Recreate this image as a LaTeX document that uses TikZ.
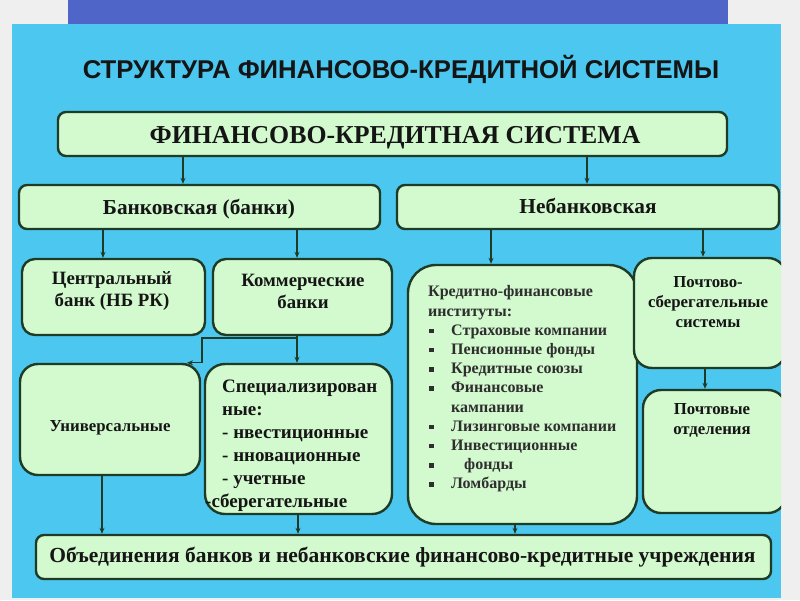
\documentclass[tikz,border=0pt]{standalone}
\usepackage{fontspec}
\setmainfont{Liberation Serif}
\newfontfamily\titlefont{Liberation Sans}
\usetikzlibrary{arrows.meta}
\definecolor{bggray}{HTML}{EFEFEF}
\definecolor{topblue}{HTML}{4F66C8}
\definecolor{cyanbg}{HTML}{4BC7F0}
\definecolor{boxfill}{HTML}{D3F9CE}
\definecolor{boxline}{HTML}{1F3B26}
\definecolor{txt}{HTML}{151515}
\definecolor{txtgray}{HTML}{2E2E2E}
\newcommand{\mybul}{\makebox[23pt][l]{\hspace*{1pt}\raisebox{0.28ex}{\rule{4.5pt}{4.5pt}}}}
\begin{document}
\begin{tikzpicture}[x=1pt,y=-1pt,
  box/.style={draw=boxline, line width=2.4pt, fill=boxfill, inner sep=0pt},
  conn/.style={draw=boxline, line width=1.2pt, -{Stealth[length=6pt,width=5pt]}},
  lbl/.style={inner sep=0pt, text=txt, align=center},
  fA/.style={font=\fontsize{25.8}{30}\selectfont\bfseries},
  fB/.style={font=\fontsize{21.3}{25}\selectfont\bfseries},
  fC/.style={font=\fontsize{18.8}{22}\selectfont\bfseries},
  fD/.style={font=\fontsize{16.8}{20}\selectfont\bfseries},
  fE/.style={font=\fontsize{19}{23}\selectfont\bfseries},
  fF/.style={font=\fontsize{16}{19.2}\selectfont\bfseries},
  fG/.style={font=\fontsize{21.5}{25}\selectfont\bfseries},
]
\useasboundingbox (0,0) rectangle (800,600);
\fill[bggray] (0,0) rectangle (800,600);
\fill[topblue] (68,0) rectangle (728,24);
\fill[cyanbg] (12,24) rectangle (781,598);

\node[lbl, anchor=base, font=\titlefont\fontsize{25.7}{30}\selectfont\bfseries] (title) at (401,78) {СТРУКТУРА ФИНАНСОВО-КРЕДИТНОЙ СИСТЕМЫ};

% boxes
\node[box, rounded corners=8pt, minimum width=669pt, minimum height=44pt] (fks) at (392.5,134) {};
\node[box, rounded corners=8pt, minimum width=361pt, minimum height=44pt] (bank) at (199.5,207) {};
\node[box, rounded corners=8pt, minimum width=382pt, minimum height=44pt] (nonbank) at (588,207) {};
\node[box, rounded corners=13pt, minimum width=183pt, minimum height=76pt] (central) at (113.5,297) {};
\node[box, rounded corners=13pt, minimum width=179pt, minimum height=76pt] (comm) at (302.5,297) {};
\node[box, rounded corners=28pt, minimum width=229pt, minimum height=259pt] (credit) at (522.5,394.5) {};
\begin{scope}
\clip (12,24) rectangle (781,598);
\node[box, rounded corners=18pt, minimum width=152pt, minimum height=110pt] (postsav) at (710,313) {};
\node[box, rounded corners=18pt, minimum width=143pt, minimum height=123pt] (postoff) at (714.5,451.5) {};
\end{scope}
\node[box, rounded corners=18pt, minimum width=180pt, minimum height=111pt] (univ) at (110,419.5) {};
\node[box, rounded corners=20pt, minimum width=187pt, minimum height=150pt] (spec) at (298.5,439) {};
\node[box, rounded corners=8pt, minimum width=735pt, minimum height=44pt] (union) at (403.5,557) {};

% texts
\node[lbl, fA, anchor=base] (tfks) at (395,143) {ФИНАНСОВО-КРЕДИТНАЯ СИСТЕМА};
\node[lbl, fB, anchor=base] (tbank) at (199,214) {Банковская (банки)};
\node[lbl, fB, anchor=base] (tnonbank) at (588,213.5) {Небанковская};
\node[lbl, fC] (tcentral) at (112,291) {Центральный\\банк (НБ РК)};
\node[lbl, fC] (tcomm) at (303,291) {Коммерческие\\банки};
\node[lbl, fD] (tpostsav) at (708,302) {Почтово-\\сберегательные\\системы};
\node[lbl, fD] (tpostoff) at (712,420) {Почтовые\\отделения};
\node[lbl, fD, anchor=base] (tuniv) at (110,431) {Универсальные};
\node[lbl, fE, anchor=west, align=left] (tspec) at (222,445.5) {Специализирован\\ные:\\- нвестиционные\\- нновационные\\- учетные\\\hspace*{-17pt}-сберегательные};
\node[lbl, fF, anchor=west, align=left, text=txtgray] (tcredit) at (428,389) {Кредитно-финансовые\\институты:\\\mybul Страховые компании\\\mybul Пенсионные фонды\\\mybul Кредитные союзы\\\mybul Финансовые\\\hspace*{23pt}кампании\\\mybul Лизинговые компании\\\mybul Инвестиционные\\\mybul\hspace*{13pt}фонды\\\mybul Ломбарды};
\node[lbl, fG, anchor=base] (tunion) at (402.5,562) {Объединения банков и небанковские финансово-кредитные учреждения};

% connector x positions
\coordinate (x183) at (183,0);
\coordinate (x587) at (587,0);
\coordinate (x103) at (103,0);
\coordinate (x297) at (297,0);
\coordinate (x491) at (491,0);
\coordinate (x703) at (703,0);
\coordinate (x705) at (705,0);
\coordinate (x102) at (102,0);
\coordinate (x298) at (298,0);
\coordinate (x515) at (515,0);
\coordinate (k1) at (297,338);
\coordinate (k2) at (202,338);
\coordinate (k3) at (187,0);

\draw[conn] (fks.south -| x183) -- (bank.north -| x183);
\draw[conn] (fks.south -| x587) -- (nonbank.north -| x587);
\draw[conn] (bank.south -| x103) -- (central.north -| x103);
\draw[conn] (bank.south -| x297) -- (comm.north -| x297);
\draw[conn] (nonbank.south -| x491) -- (credit.north -| x491);
\draw[conn] (nonbank.south -| x703) -- (postsav.north -| x703);
\draw[conn] (postsav.south -| x705) -- (postoff.north -| x705);
\draw[conn] (comm.south -| x297) -- (spec.north -| x297);
\draw[conn] (k1) -- (k2) -- (k2 |- univ.north) -- (k3 |- univ.north);
\draw[conn] (univ.south -| x102) -- (union.north -| x102);
\draw[conn] (spec.south -| x298) -- (union.north -| x298);
\draw[conn] (credit.south -| x515) -- (union.north -| x515);
\end{tikzpicture}
\end{document}
